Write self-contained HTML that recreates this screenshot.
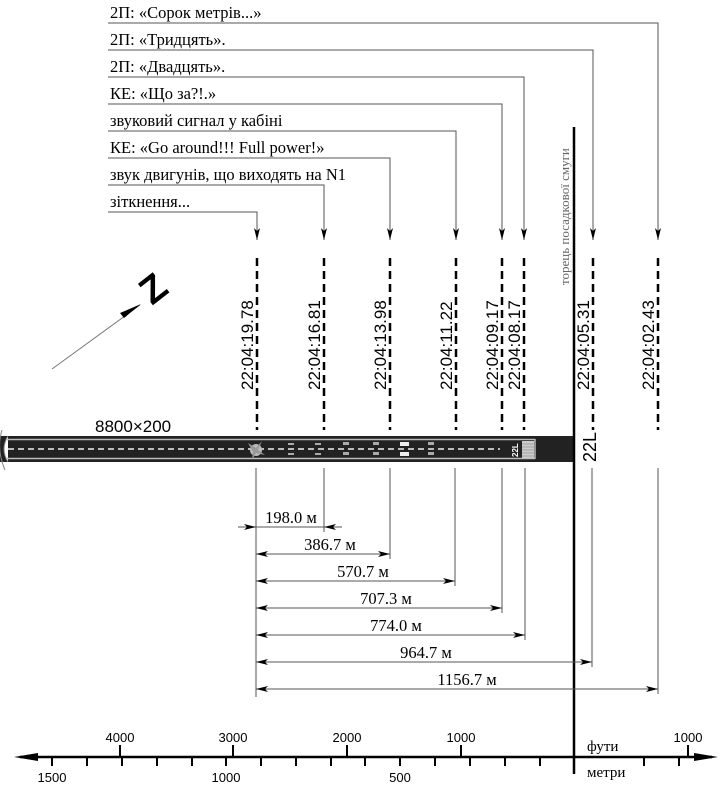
<!DOCTYPE html>
<html><head><meta charset="utf-8"><style>body{margin:0;background:#fff}svg{display:block}</style></head><body>
<svg width="721" height="800" viewBox="0 0 721 800" xmlns="http://www.w3.org/2000/svg">
<defs>
<marker id="ar" viewBox="0 0 12 6" refX="12" refY="3" markerWidth="12" markerHeight="6" orient="auto" markerUnits="userSpaceOnUse"><path d="M0,0 L12,3 L0,6 L3,3 z" fill="#000"/></marker>
</defs>
<g font-family="Liberation Serif, serif" font-size="16.5" fill="#000">
<text x="110" y="18">2П: «Сорок метрів...»</text>
<text x="110" y="45">2П: «Тридцять».</text>
<text x="110" y="72">2П: «Двадцять».</text>
<text x="110" y="99">КЕ: «Що за?!.»</text>
<text x="110" y="126">звуковий сигнал у кабіні</text>
<text x="110" y="153">КЕ: «Go around!!! Full power!»</text>
<text x="110" y="180">звук двигунів, що виходять на N1</text>
<text x="110" y="207">зіткнення...</text>
</g>
<g stroke="#555" stroke-width="1" fill="none">
<polyline points="108,23 658,23 658,240" marker-end="url(#ar)"/>
<polyline points="108,50 593,50 593,240" marker-end="url(#ar)"/>
<polyline points="108,77 524,77 524,240" marker-end="url(#ar)"/>
<polyline points="108,104 502,104 502,240" marker-end="url(#ar)"/>
<polyline points="108,131 456,131 456,240" marker-end="url(#ar)"/>
<polyline points="108,158 390,158 390,240" marker-end="url(#ar)"/>
<polyline points="108,185 324,185 324,240" marker-end="url(#ar)"/>
<polyline points="108,212 257,212 257,240" marker-end="url(#ar)"/>
</g>
<g stroke="#000" stroke-width="2.5" stroke-dasharray="8,5">
<line x1="257" y1="258" x2="257" y2="430"/><line x1="324" y1="258" x2="324" y2="430"/>
<line x1="390" y1="258" x2="390" y2="430"/><line x1="456" y1="258" x2="456" y2="430"/>
<line x1="502" y1="258" x2="502" y2="430"/><line x1="524" y1="258" x2="524" y2="430"/>
<line x1="593" y1="258" x2="593" y2="430"/><line x1="658" y1="258" x2="658" y2="430"/>
</g>
<g font-family="Liberation Sans, sans-serif" font-size="17" fill="#000">
<text transform="translate(253,390) rotate(-90)">22:04:19.78</text>
<text transform="translate(320,390) rotate(-90)">22:04:16.81</text>
<text transform="translate(386,390) rotate(-90)">22:04:13.98</text>
<text transform="translate(452,390) rotate(-90)">22:04:11.22</text>
<text transform="translate(498,390) rotate(-90)">22:04:09.17</text>
<text transform="translate(520,390) rotate(-90)">22:04:08.17</text>
<text transform="translate(589,390) rotate(-90)">22:04:05.31</text>
<text transform="translate(654,390) rotate(-90)">22:04:02.43</text>
</g>
<text transform="translate(569,285) rotate(-90)" font-family="Liberation Serif, serif" font-size="13" fill="#666">торець посадкової смуги</text>
<!-- north -->
<line x1="52" y1="369" x2="140" y2="305" stroke="#777" stroke-width="1"/>
<path d="M141,304 L120,313 L124,318 z" fill="#000"/>
<text transform="translate(152,306) rotate(-38)" font-family="Liberation Sans, sans-serif" font-size="38" font-weight="bold">Z</text>
<text x="95" y="432" font-family="Liberation Sans, sans-serif" font-size="17">8800×200</text>
<!-- runway -->
<path d="M0,436 L574,436 L574,462 L0,462 z" fill="#222"/>
<path d="M8,436 Q0,449 8,462" fill="#fff" stroke="#888"/>
<path d="M2,430 Q-4,449 5,470" fill="none" stroke="#888"/>
<line x1="6" y1="439.5" x2="535" y2="439.5" stroke="#bbb" stroke-width="1.5"/>
<line x1="6" y1="458.5" x2="535" y2="458.5" stroke="#bbb" stroke-width="1.5"/>
<line x1="535" y1="439" x2="535" y2="459" stroke="#bbb" stroke-width="1.5"/>
<line x1="8" y1="449" x2="500" y2="449" stroke="#eee" stroke-width="1.5" stroke-dasharray="6,4"/>
<g fill="#aaa"><rect x="288" y="443" width="6" height="2"/><rect x="288" y="453" width="6" height="2"/><rect x="315" y="443" width="6" height="2"/><rect x="315" y="453" width="6" height="2"/>
<rect x="343" y="442" width="6" height="3"/><rect x="343" y="452" width="6" height="3"/><rect x="373" y="442" width="6" height="3"/><rect x="373" y="452" width="6" height="3"/>
<rect x="400" y="442" width="9" height="4" fill="#eee"/><rect x="400" y="452" width="9" height="4" fill="#eee"/><rect x="428" y="442" width="6" height="3"/><rect x="428" y="452" width="6" height="3"/></g>
<text transform="translate(518,457) rotate(-90)" font-family="Liberation Sans, sans-serif" font-size="8" font-weight="bold" fill="#fff">22L</text>
<rect x="522" y="441" width="12" height="17" fill="#ccc"/>
<g stroke="#888" stroke-width="0.6"><line x1="522" y1="444" x2="534" y2="444"/><line x1="522" y1="447" x2="534" y2="447"/><line x1="522" y1="450" x2="534" y2="450"/><line x1="522" y1="453" x2="534" y2="453"/><line x1="522" y1="456" x2="534" y2="456"/></g>
<circle cx="256" cy="450" r="6" fill="#bbb"/><path d="M248,443 L256,448 L262,441 L258,450 L265,455 L256,453 L252,460 L253,452 z" fill="#999"/>
<text transform="translate(596,462) rotate(-90)" font-family="Liberation Sans, sans-serif" font-size="18">22L</text>
<line x1="574" y1="127" x2="574" y2="774" stroke="#000" stroke-width="2.5"/>
<!-- ext lines -->
<g stroke="#555" stroke-width="1">
<line x1="256" y1="468" x2="256" y2="697"/><line x1="324" y1="468" x2="324" y2="532"/>
<line x1="390" y1="468" x2="390" y2="559"/><line x1="455" y1="468" x2="455" y2="586"/>
<line x1="502" y1="468" x2="502" y2="613"/><line x1="525" y1="468" x2="525" y2="640"/>
<line x1="592" y1="468" x2="592" y2="667"/><line x1="658" y1="468" x2="658" y2="694"/>
</g>
<g stroke="#555" stroke-width="1" fill="none">
<line x1="238" y1="527" x2="256" y2="527" marker-end="url(#ar)"/>
<line x1="342" y1="527" x2="324" y2="527" marker-end="url(#ar)"/>
<line x1="256" y1="527" x2="324" y2="527"/>
<line x1="284" y1="554" x2="390" y2="554" marker-end="url(#ar)"/><line x1="290" y1="554" x2="256" y2="554" marker-end="url(#ar)"/>
<line x1="284" y1="581" x2="455" y2="581" marker-end="url(#ar)"/><line x1="290" y1="581" x2="256" y2="581" marker-end="url(#ar)"/>
<line x1="284" y1="608" x2="502" y2="608" marker-end="url(#ar)"/><line x1="290" y1="608" x2="256" y2="608" marker-end="url(#ar)"/>
<line x1="284" y1="635" x2="525" y2="635" marker-end="url(#ar)"/><line x1="290" y1="635" x2="256" y2="635" marker-end="url(#ar)"/>
<line x1="284" y1="662" x2="592" y2="662" marker-end="url(#ar)"/><line x1="290" y1="662" x2="256" y2="662" marker-end="url(#ar)"/>
<line x1="284" y1="689" x2="658" y2="689" marker-end="url(#ar)"/><line x1="290" y1="689" x2="256" y2="689" marker-end="url(#ar)"/>
</g>
<g font-family="Liberation Serif, serif" font-size="16.5" fill="#000" text-anchor="middle">
<text x="291" y="523">198.0 м</text><text x="330" y="550">386.7 м</text>
<text x="363" y="577">570.7 м</text><text x="386" y="604">707.3 м</text>
<text x="396" y="631">774.0 м</text><text x="426" y="658">964.7 м</text>
<text x="467" y="685">1156.7 м</text>
</g>
<!-- scale axis -->
<line x1="20" y1="757" x2="712" y2="757" stroke="#000" stroke-width="2.5"/>
<path d="M14,757 L38,753 L38,761 z" fill="#000"/><path d="M718,757 L694,753 L694,761 z" fill="#000"/>
<g stroke="#000" stroke-width="2">
<line x1="52" y1="757" x2="52" y2="766"/><line x1="87" y1="757" x2="87" y2="766"/><line x1="122" y1="757" x2="122" y2="766"/><line x1="157" y1="757" x2="157" y2="766"/><line x1="192" y1="757" x2="192" y2="766"/><line x1="226" y1="757" x2="226" y2="766"/><line x1="261" y1="757" x2="261" y2="766"/><line x1="296" y1="757" x2="296" y2="766"/><line x1="331" y1="757" x2="331" y2="766"/><line x1="365" y1="757" x2="365" y2="766"/><line x1="400" y1="757" x2="400" y2="766"/><line x1="435" y1="757" x2="435" y2="766"/><line x1="470" y1="757" x2="470" y2="766"/><line x1="505" y1="757" x2="505" y2="766"/><line x1="540" y1="757" x2="540" y2="766"/><line x1="644" y1="757" x2="644" y2="766"/><line x1="679" y1="757" x2="679" y2="766"/>
<line x1="120" y1="757" x2="120" y2="745"/><line x1="233" y1="757" x2="233" y2="745"/><line x1="347" y1="757" x2="347" y2="745"/><line x1="461" y1="757" x2="461" y2="745"/><line x1="688" y1="757" x2="688" y2="745"/>
</g>
<g font-family="Liberation Sans, sans-serif" font-size="13" fill="#000" text-anchor="middle">
<text x="120" y="742">4000</text><text x="233" y="742">3000</text><text x="347" y="742">2000</text><text x="461" y="742">1000</text><text x="688" y="742">1000</text>
<text x="52" y="782">1500</text><text x="226" y="782">1000</text><text x="400" y="782">500</text>
</g>
<g font-family="Liberation Serif, serif" font-size="15" fill="#000">
<text x="587" y="751">фути</text><text x="587" y="777">метри</text>
</g>
</svg>
</body></html>
